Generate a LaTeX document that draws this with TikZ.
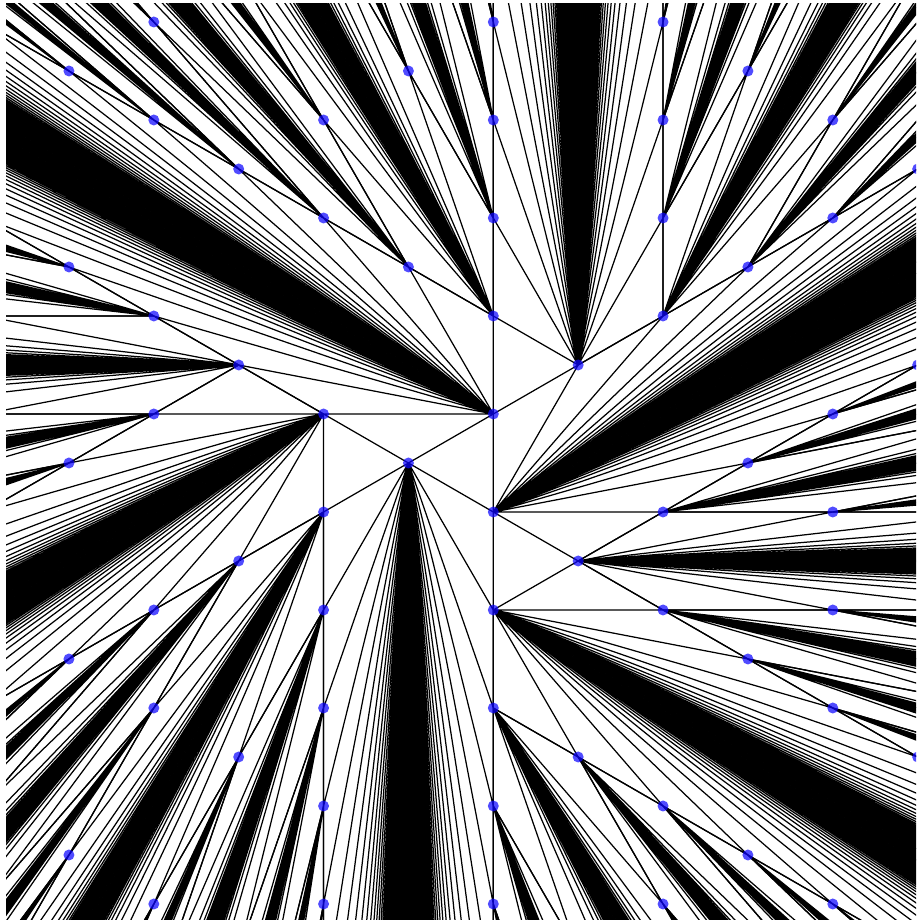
\documentclass[tikz,border=0pt]{standalone}
\makeatletter
% lattice: x = 493.3 + 84.87 c px, y = 414 + 49 r px; 1 px = 0.5 pt
\newcommand\LX[1]{\dimexpr246.65pt+42.435pt*\numexpr#1\relax\relax}
\newcommand\LY[1]{\dimexpr253pt-24.5pt*\numexpr#1\relax\relax}
\newcommand\LP[2]{\pgfqpoint{\LX{#1}}{\LY{#2}}}
\newcount\wc \newcount\wr \newcount\pc \newcount\pr \newcount\dc \newcount\dr \newcount\fk
\newcommand\Kmax{80}
\newcommand\rowloop{%
  \pgfpathmoveto{\LP{\wc}{\wr}}\pgfpathlineto{\LP{\pc}{\pr}}%
  \advance\fk by 1 \advance\pc by \dc \advance\pr by \dr
  \let\nx\rowloop
  \ifnum\fk>\Kmax \let\nx\relax\fi
  \ifnum\pc>180 \let\nx\relax\fi
  \ifnum\pc<-180 \let\nx\relax\fi
  \ifnum\pr>306 \let\nx\relax\fi
  \ifnum\pr<-306 \let\nx\relax\fi
  \nx}
% #1 #2 apex, #3 #4 u, #5 #6 v
\newcommand\fanlines[6]{%
  \wc=#1 \wr=#2 \dc=\numexpr#3+#5\relax \dr=\numexpr#4+#6\relax
  \pc=\numexpr#1+#3\relax \pr=\numexpr#2+#4\relax \fk=0 \rowloop
  \advance\pc by -\dc \advance\pr by -\dr
  \edef\uc{\the\pc}\edef\ur{\the\pr}%
  \pgfpathmoveto{\LP{#1+#3}{#2+#4}}\pgfpathlineto{\LP{\uc}{\ur}}%
  \pc=\numexpr#1+#5\relax \pr=\numexpr#2+#6\relax \fk=0 \rowloop
  \advance\pc by -\dc \advance\pr by -\dr
  \edef\vc{\the\pc}\edef\vr{\the\pr}%
  \pgfpathmoveto{\LP{#1+#5}{#2+#6}}\pgfpathlineto{\LP{\vc}{\vr}}%
  \pgfusepath{stroke}%
  \pgfpathmoveto{\LP{#1}{#2}}\pgfpathlineto{\LP{\uc}{\ur}}\pgfpathlineto{\LP{\vc}{\vr}}\pgfpathclose
  \pgfusepath{fill}}
\newcommand\fandot[6]{\pgfpathcircle{\LP{#1}{#2}}{2.75pt}\pgfusepath{fill}}
\newcommand\lwedge[6]{%
  \ifnum\numexpr49330+8487*(#1)\relax<0 \else
  \ifnum\numexpr49330+8487*(#1)\relax>92500 \else
  \ifnum\numexpr41400+4900*(#2)\relax<-200 \else
  \ifnum\numexpr41400+4900*(#2)\relax>92500 \else
    \thefan{#1}{#2}{#3}{#4}{#5}{#6}%
    \edef\nxa{\noexpand\lwedge{\the\numexpr#1+#3}{\the\numexpr#2+#4}{#3}{#4}{\the\numexpr#3+#5}{\the\numexpr#4+#6}}\nxa
    \edef\nxb{\noexpand\lwedge{\the\numexpr#1+#5}{\the\numexpr#2+#6}{\the\numexpr#3+#5}{\the\numexpr#4+#6}{#5}{#6}}\nxb
  \fi\fi\fi\fi}
\newcommand\wholefigure{%
  \thefan{1}{-1}{-1}{-1}{1}{-1}%
  \thefan{0}{0}{0}{-2}{-1}{1}%
  \thefan{-2}{0}{-1}{-1}{0}{2}%
  \thefan{-1}{1}{-1}{1}{1}{1}%
  \thefan{0}{4}{1}{-1}{0}{2}%
  \thefan{0}{2}{0}{-2}{1}{1}%
  \lwedge{2}{-2}{0}{-2}{1}{-1}%
  \lwedge{1}{3}{1}{-1}{1}{1}%
  \lwedge{0}{6}{1}{1}{0}{2}%
  \lwedge{-2}{2}{0}{2}{-1}{1}%
  \lwedge{-3}{-1}{-1}{-1}{-1}{1}%
  \lwedge{0}{-2}{-1}{-1}{0}{-2}}
\definecolor{dotblue}{rgb}{0.05,0.02,1}
\makeatother
\begin{document}
\begin{tikzpicture}
\useasboundingbox (0pt,0pt) rectangle (458pt,460pt);
\begin{scope}
\clip (3pt,0pt) rectangle (458pt,458pt);
\pgfsetlinewidth{0.62pt}
\pgfsetcolor{black}
\let\thefan\fanlines
\wholefigure
\begin{scope}
\pgfsetfillcolor{dotblue}
\pgfsetfillopacity{0.72}
\let\thefan\fandot
\wholefigure
\end{scope}
\end{scope}
\end{tikzpicture}
\end{document}
